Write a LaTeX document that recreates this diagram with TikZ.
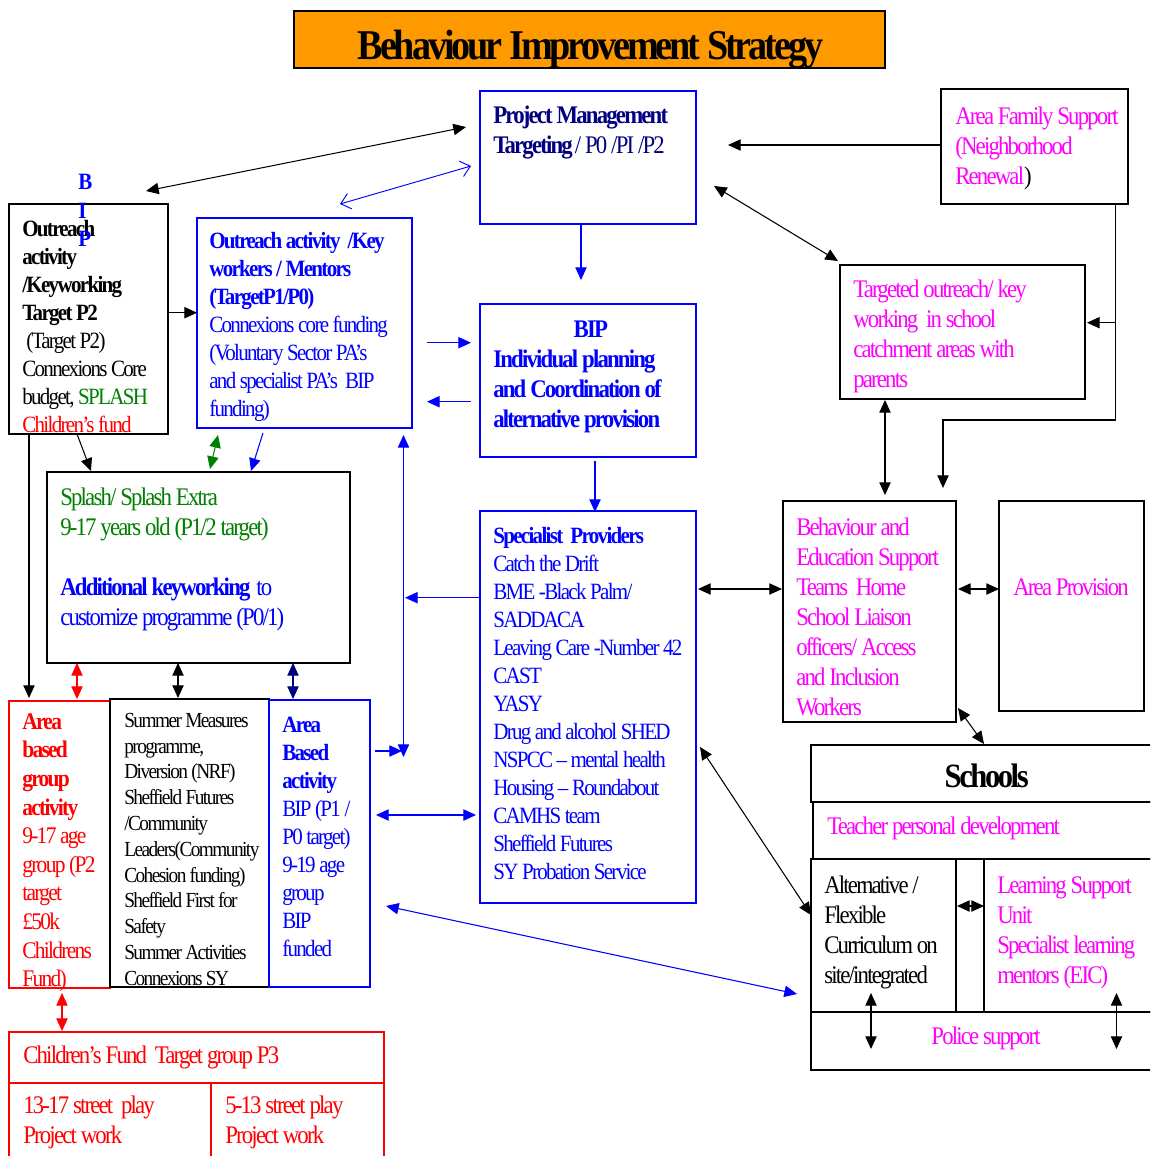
\documentclass[tikz,border=0pt]{standalone}
\usepackage{fontspec}
\setmainfont{Liberation Serif}[FakeStretch=0.9,LetterSpace=-7.2]
\usetikzlibrary{arrows.meta,fit}
\definecolor{bsorange}{RGB}{255,153,0}
\definecolor{bsnavy}{RGB}{0,0,128}
\definecolor{bsgreen}{RGB}{0,128,0}
\definecolor{bsmag}{RGB}{255,0,255}

\begin{document}
\begin{tikzpicture}[x=0.75pt,y=-0.75pt,
box/.style={draw,line width=0.9pt,inner sep=0pt},
txt/.style={anchor=north west,inner sep=0pt,align=left},
fS/.style={font=\fontsize{17.5}{21}\selectfont},
fL/.style={font=\fontsize{19}{22.5}\selectfont},
fR/.style={font=\fontsize{17.9}{21.45}\selectfont},
fM/.style={font=\fontsize{16.1}{19.35}\selectfont},
arr/.style={line width=0.8pt,-{Triangle[length=9.5pt,width=8.5pt]}},
darr/.style={line width=0.8pt,{Triangle[length=9.5pt,width=8.5pt]}-{Triangle[length=9.5pt,width=8.5pt]}},
barb/.style={line width=0.7pt,{Straight Barb[length=7pt,width=12pt]}-{Straight Barb[length=7pt,width=12pt]}}]
\useasboundingbox (0,0) rectangle (1150,1156);
\fill[white] (0,0) rectangle (1150,1156);
\clip (0,0) rectangle (1150,1156);

% boxes
\node[box,fill=bsorange,fit={(294,11) (885,68)}] (title) {};
\node[box,draw=blue,fit={(480,91) (696,224)}] (pm) {};
\node[box,fit={(941,89) (1128,204)}] (afs) {};
\node[box,fit={(9,204) (168,434)}] (oa) {};
\node[box,draw=blue,fit={(197,218) (412,428)}] (okw) {};
\node[box,draw=blue,fit={(480,304) (696,457)}] (bip) {};
\node[box,fit={(840,265) (1085,399)}] (targ) {};
\node[box,fit={(47,472) (350,663)}] (splash) {};
\node[box,draw=blue,fit={(480,511) (696,903)}] (spec) {};
\node[box,fit={(783,501) (956,722)}] (best) {};
\node[box,fit={(999,501) (1144,711)}] (aprov) {};
\node[box,draw=red,fit={(9,701) (110,988)}] (rarea) {};
\node[box,fit={(110,699) (269,987)}] (summer) {};
\node[box,draw=blue,fit={(269,700) (370,987)}] (barea) {};
\node[box,fit={(811,745) (1160,802)}] (schools) {};
\node[box,fit={(813,802) (1160,859)}] (teach) {};
\node[box,fit={(811,859) (956,1012)}] (alt) {};
\node[box,fit={(956,859) (984,1012)}] (mid) {};
\node[box,fit={(984,859) (1160,1012)}] (lsu) {};
\node[box,fit={(811,1012) (1160,1070)}] (police) {};
\node[box,draw=red,fit={(9,1032) (384,1083)}] (cf) {};
\node[box,draw=red,fit={(9,1083) (211,1170)}] (cfa) {};
\node[box,draw=red,fit={(211,1083) (384,1170)}] (cfb) {};

% texts
\node[anchor=base,inner sep=0pt,font=\fontsize{31.8}{36}\selectfont\bfseries] (titleT) at (590.5,60) {Behaviour Improvement Strategy};
\node[txt,fL,text=bsnavy] (pmT) at (493,102) {\strut\textbf{Project Management}\\\textbf{Targeting} / P0 /PI /P2};
\node[txt,fL,text=bsmag] (afsT) at (955,103) {\strut Area Family Support\\(Neighborhood\\Renewal{\color{black})}};
\node[txt,fS] (oaT) at (22,216.4) {\strut\textbf{Outreach}\\\textbf{activity}\\\textbf{/Keyworking}\\\textbf{Target P2}\\\hspace{3pt}(Target P2)\\Connexions Core\\budget, {\color{bsgreen}SPLASH}\\{\color{red}Children’s fund}};
\node[txt,font=\fontsize{17.5}{21.4}\selectfont\bfseries,text=blue] (bipV) at (78,169.4) {\strut B\\I\\P};
\node[txt,fS,text=blue] (okwT) at (209,228.4) {\strut\textbf{Outreach activity\ \ /Key}\\\textbf{workers / Mentors}\\\textbf{(TargetP1/P0)}\\Connexions core funding\\(Voluntary Sector PA’s\\and specialist PA’s\ \ BIP\\funding)};
\node[anchor=base,inner sep=0pt,fL,text=blue] (bipH) at (590,337) {\textbf{BIP}};
\node[txt,fL,text=blue] (bipT) at (493,346) {\strut\textbf{Individual planning}\\\textbf{and Coordination of}\\\textbf{alternative provision}};
\node[txt,fL,text=bsmag] (targT) at (853,276) {\strut Targeted outreach/ key\\working\ \ in school\\catchment areas with\\parents};
\node[txt,fL] (splashT) at (60,484) {\strut{\color{bsgreen}Splash/ Splash Extra}\\{\color{bsgreen}9-17 years old (P1/2 target)}\\[22.5pt]{\color{blue}\textbf{Additional keyworking}\ \ to}\\{\color{blue}customize programme (P0/1)}};
\node[txt,fS,text=blue] (specT) at (493,523.4) {\strut\textbf{Specialist\ \ Providers}\\Catch the Drift\\BME -Black Palm/\\SADDACA\\Leaving Care -Number 42\\CAST\\YASY\\Drug and alcohol SHED\\NSPCC – mental health\\Housing – Roundabout\\CAMHS team\\Sheffield Futures\\SY Probation Service};
\node[txt,fL,text=bsmag] (bestT) at (796,514) {\strut Behaviour and\\Education Support\\Teams\ \ Home\\School Liaison\\officers/ Access\\and Inclusion\\Workers};
\node[anchor=base west,inner sep=0pt,fL,text=bsmag] (aprovT) at (1013,595) {Area Provision};
\node[txt,fR,text=red] (rareaT) at (22,709) {\strut\textbf{Area}\\\textbf{based}\\\textbf{group}\\\textbf{activity}\\9-17 age\\group (P2\\target\\£50k\\Childrens\\Fund)};
\node[txt,fM] (summerT) at (124,709) {\strut Summer Measures\\programme,\\Diversion (NRF)\\Sheffield Futures\\/Community\\Leaders(Community\\Cohesion funding)\\Sheffield First for\\Safety\\Summer Activities\\Connexions SY};
\node[txt,fS,text=blue] (bareaT) at (282,712.4) {\strut\textbf{Area}\\\textbf{Based}\\\textbf{activity}\\BIP (P1 /\\P0 target)\\9-19 age\\group\\BIP\\funded};
\node[anchor=base,inner sep=0pt,font=\fontsize{25.5}{30}\selectfont\bfseries] (schoolsT) at (986.7,787) {Schools};
\node[anchor=base west,inner sep=0pt,fL,text=bsmag] (teachT) at (827,834) {Teacher personal development};
\node[txt,fL] (altT) at (824,872) {\strut Alternative /\\Flexible\\Curriculum on\\site/integrated};
\node[txt,fL,text=bsmag] (lsuT) at (997,872) {\strut Learning Support\\Unit\\Specialist learning\\mentors (EIC)};
\node[anchor=base,inner sep=0pt,fL,text=bsmag] (policeT) at (986,1044) {Police support};
\node[anchor=base west,inner sep=0pt,fL,text=red] (cfT) at (23,1063) {Children’s Fund\ \ Target group P3};
\node[txt,fL,text=red] (cfaT) at (23,1092) {\strut 13-17 street\ \ play\\Project work};
\node[txt,fL,text=red] (cfbT) at (225,1092) {\strut 5-13 street play\\Project work};

% free ends of connectors
\coordinate (p1) at (146,191);   \coordinate (p2) at (466,127);
\coordinate (p3) at (340,204);   \coordinate (p4) at (471,166);
\coordinate (p5) at (581,224);   \coordinate (p6) at (581,280);
\coordinate (p7) at (941,145);   \coordinate (p8) at (728,145);
\coordinate (p9) at (714,186);   \coordinate (p10) at (838,261);
\coordinate (p11) at (1115.5,204); \coordinate (p12) at (1115.5,322.7);
\coordinate (p13) at (1087,322.7); \coordinate (p14) at (943,488);
\coordinate (p15) at (885,400);  \coordinate (p16) at (885,495);
\coordinate (p17) at (168,312.7); \coordinate (p18) at (197,312.7);
\coordinate (p19) at (427,342.7); \coordinate (p20) at (471,342.7);
\coordinate (p21) at (471,401.7); \coordinate (p22) at (427,401.7);
\coordinate (p23) at (29,434);   \coordinate (p24) at (29,698);
\coordinate (p25) at (77,434);   \coordinate (p26) at (91,471);
\coordinate (p27) at (218,435);  \coordinate (p28) at (210,469);
\coordinate (p29) at (263,433);  \coordinate (p30) at (251,471);
\coordinate (p31) at (403.5,435); \coordinate (p32) at (403.5,757);
\coordinate (p33) at (481,597.7); \coordinate (p34) at (405,597.7);
\coordinate (p35) at (375,751);  \coordinate (p36) at (402,751);
\coordinate (p37) at (376,815);  \coordinate (p38) at (476,815);
\coordinate (p39) at (595,461);  \coordinate (p40) at (595,512);

% connectors
\draw[darr] (p1) -- (p2);
\draw[barb,blue] (p3) -- (p4);
\draw[arr,blue] (p5) -- (p6);
\draw[arr] (p7) -- (p8);
\draw[darr] (p9) -- (p10);
\draw[arr] (p11) -- (p12) -- (p13);
\draw[arr] (p12) -- (1115.5,420) -- (943,420) -- (p14);
\draw[darr] (p15) -- (p16);
\draw[arr] (p17) -- (p18);
\draw[arr,blue] (p19) -- (p20);
\draw[arr,blue] (p21) -- (p22);
\draw[arr] (p23) -- (p24);
\draw[arr] (p25) -- (p26);
\draw[darr,bsgreen] (p27) -- (p28);
\draw[arr,blue] (p29) -- (p30);
\draw[darr,blue] (p31) -- (p32);
\draw[arr,blue] (p33) -- (p34);
\draw[arr,blue] (p35) -- (p36);
\draw[darr,blue] (p37) -- (p38);
\draw[arr,blue] (p39) -- (p40);
\draw[darr,red] (77,663) -- (77,699);
\draw[darr] (178,663) -- (178,698);
\draw[darr,bsnavy] (293,663) -- (293,699);
\draw[darr,red] (62,993) -- (62,1031);
\draw[darr] (698,589) -- (782,589);
\draw[darr] (958,589) -- (999,589);
\draw[darr] (958,708) -- (984,744);
\draw[darr] (700,747) -- (811,915);
\draw[darr,blue] (386,906) -- (797,994);
\draw[darr] (957,906) -- (984,906);
\draw[darr] (871,993) -- (871,1049);
\draw[darr] (1116.5,993) -- (1116.5,1049);
\end{tikzpicture}
\end{document}
